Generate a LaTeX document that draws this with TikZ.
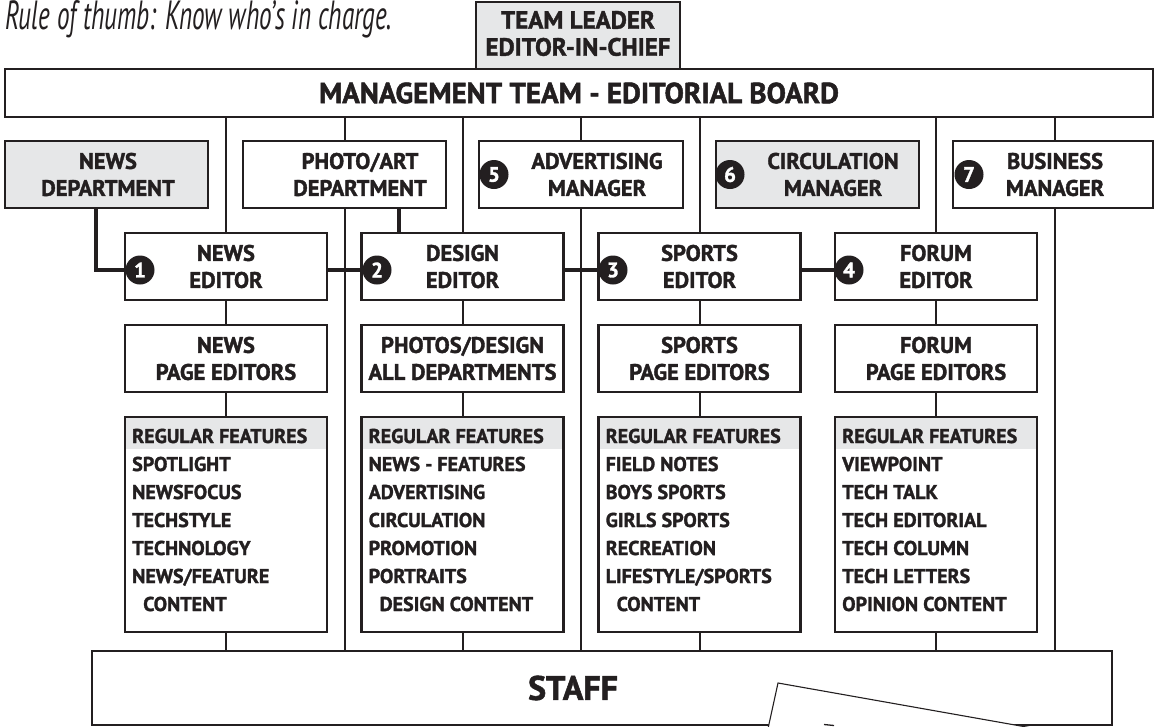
\documentclass[tikz,border=0pt]{standalone}
\usepackage{fontspec}
\setmainfont{PT Sans}[BoldFeatures={FakeBold=1.6}]
\usetikzlibrary{calc,backgrounds}
\definecolor{ink}{HTML}{231F20}
\definecolor{panel}{HTML}{E6E7E8}
\tikzset{
  box/.style={draw=ink,line width=2.8pt,fill=white,inner sep=0pt,outer sep=0pt,minimum height=67pt,minimum width=202pt},
  graybox/.style={box,fill=panel},
  lab/.style={align=center,inner sep=0pt,text=ink,font=\bfseries\fontsize{22.5}{27}\selectfont},
  item/.style={anchor=base west,inner sep=0pt,text=ink,font=\bfseries\fontsize{20}{20}\selectfont},
  badge/.style={circle,fill=ink,text=white,minimum size=29pt,inner sep=0pt,font=\bfseries\fontsize{21}{21}\selectfont},
  conn/.style={draw=ink,line width=4.8pt},
  link/.style={draw=ink,line width=2pt},
  listbox/.style={box,minimum height=215pt}
}
\begin{document}
\begin{tikzpicture}[x=1pt,y=-1pt]
\useasboundingbox (0,0) rectangle (1158,726);
% title
\node[anchor=base west,inner sep=0pt,text=ink] (title) at (5,29)
  {\resizebox{387pt}{29pt}{\itshape Rule of thumb: Know who's in charge.}};
% management
\node[box,minimum width=1148pt,minimum height=48pt] (mgmt) at (579,93) {};
\node[lab,font=\bfseries\fontsize{29}{29}\selectfont] (mgmt-t) at (mgmt.center) {MANAGEMENT TEAM - EDITORIAL BOARD};
\node[graybox,minimum width=204pt] (lead) at (578,35.5) {};
\node[lab,font=\bfseries\fontsize{25}{27}\selectfont] (lead-t) at (578,33.5) {TEAM LEADER\\EDITOR-IN-CHIEF};
% top row
\node[graybox,minimum width=203pt] (newsdept) at (106.5,174.5) {};
\node[box,minimum width=203pt] (photo) at (344.5,174.5) {};
\node[box,minimum width=204pt] (adv) at (581,174.5) {};
\node[graybox,minimum width=203pt] (circ) at (817.5,174.5) {};
\node[box,minimum width=200pt] (bus) at (1053,174.5) {};
\node[lab] (newsdept-t) at (108,174.5) {NEWS\\DEPARTMENT};
\node[lab] (photo-t) at (360,174.5) {PHOTO/ART\\DEPARTMENT};
\node[lab] (adv-t) at (597,174.5) {ADVERTISING\\MANAGER};
\node[lab] (circ-t) at (833,174.5) {CIRCULATION\\MANAGER};
\node[lab] (bus-t) at (1055,174.5) {BUSINESS\\MANAGER};
% editors
\node[box] (newsed) at (226,266.5) {};
\node[box] (desed) at (462.5,266.5) {};
\node[box] (sped) at (699.5,266.5) {};
\node[box] (fored) at (936,266.5) {};
\node[lab] (newsed-t) at (newsed.center) {NEWS\\EDITOR};
\node[lab] (desed-t) at (desed.center) {DESIGN\\EDITOR};
\node[lab] (sped-t) at (sped.center) {SPORTS\\EDITOR};
\node[lab] (fored-t) at (fored.center) {FORUM\\EDITOR};
% page editors
\node[box] (newspe) at (226,358.5) {};
\node[box] (despe) at (462.5,358.5) {};
\node[box] (sppe) at (699.5,358.5) {};
\node[box] (forpe) at (936,358.5) {};
\node[lab] (newspe-t) at (newspe.center) {NEWS\\PAGE EDITORS};
\node[lab] (despe-t) at (despe.center) {PHOTOS/DESIGN\\ALL DEPARTMENTS};
\node[lab] (sppe-t) at (sppe.center) {SPORTS\\PAGE EDITORS};
\node[lab] (forpe-t) at (forpe.center) {FORUM\\PAGE EDITORS};
% feature lists
\node[listbox] (newsfl) at (226,524.5) {};
\node[listbox] (desfl) at (462.5,524.5) {};
\node[listbox] (spfl) at (699.5,524.5) {};
\node[listbox] (forfl) at (936,524.5) {};
\foreach \b in {newsfl,desfl,spfl,forfl}
  \fill[panel] ($(\b.north west)+(1.4,1.4)$) rectangle ($(\b.north east)+(-1.4,32)$);
\foreach \t [count=\i] in {REGULAR FEATURES,SPOTLIGHT,NEWSFOCUS,TECHSTYLE,TECHNOLOGY,NEWS/FEATURE,\hspace*{11pt}CONTENT}
  \node[item] (newsfl-\i) at ($(newsfl.north west)+(7,26+28*\i-28)$) {\t};
\foreach \t [count=\i] in {REGULAR FEATURES,NEWS - FEATURES,ADVERTISING,CIRCULATION,PROMOTION,PORTRAITS,\hspace*{11pt}DESIGN CONTENT}
  \node[item] (desfl-\i) at ($(desfl.north west)+(7,26+28*\i-28)$) {\t};
\foreach \t [count=\i] in {REGULAR FEATURES,FIELD NOTES,BOYS SPORTS,GIRLS SPORTS,RECREATION,LIFESTYLE/SPORTS,\hspace*{11pt}CONTENT}
  \node[item] (spfl-\i) at ($(spfl.north west)+(7,26+28*\i-28)$) {\t};
\foreach \t [count=\i] in {REGULAR FEATURES,VIEWPOINT,TECH TALK,TECH EDITORIAL,TECH COLUMN,TECH LETTERS,OPINION CONTENT}
  \node[item] (forfl-\i) at ($(forfl.north west)+(7,26+28*\i-28)$) {\t};
% staff
\node[box,minimum width=1020pt,minimum height=74pt] (staff) at (602,688) {};
\node[lab,font=\bfseries\fontsize{34}{34}\selectfont] (staff-t) at (573,688) {STAFF};
% paper sheet
\coordinate (p1) at (764.4,745);
\coordinate (p2) at (778,683);
\coordinate (p3) at (1128,745);
\fill[white] (p1) -- (p2) -- (p3) -- cycle;
\draw[ink,line width=1.1pt] (p1) -- (p2) -- (p3);
\draw[ink,line width=1.3pt] (824,724.5) -- (834,725.5);
% thin links behind boxes
\begin{pgfonlayer}{background}
\foreach \b in {newsed,photo,desed,adv,sped,fored}
  \draw[link] (\b.north |- mgmt.south) -- (\b.north |- staff.north);
\draw[link] ([xshift=2pt]bus.north |- mgmt.south) -- ([xshift=2pt]bus.north |- staff.north);
\end{pgfonlayer}
% thick connectors
\coordinate (c1) at (140,270);
\coordinate (c2) at (377,270);
\coordinate (c3) at (613,270);
\coordinate (c4) at (849,270);
\draw[conn] ([xshift=-10.5pt]newsdept.south) |- (c1);
\draw[conn] ([xshift=54.5pt]photo.south) -- ([xshift=54.5pt]photo.south |- desed.north);
\draw[conn] (newsed.east |- c2) -- (c2);
\draw[conn] (desed.east |- c3) -- (c3);
\draw[conn] (sped.east |- c4) -- (c4);
% badges
\node[badge] (b1) at (c1) {1};
\node[badge] (b2) at (c2) {2};
\node[badge] (b3) at (c3) {3};
\node[badge] (b4) at (c4) {4};
\node[badge] (b5) at (494,174.5) {5};
\node[badge] (b6) at (730,174.5) {6};
\node[badge] (b7) at (969,174.5) {7};
\end{tikzpicture}
\end{document}
